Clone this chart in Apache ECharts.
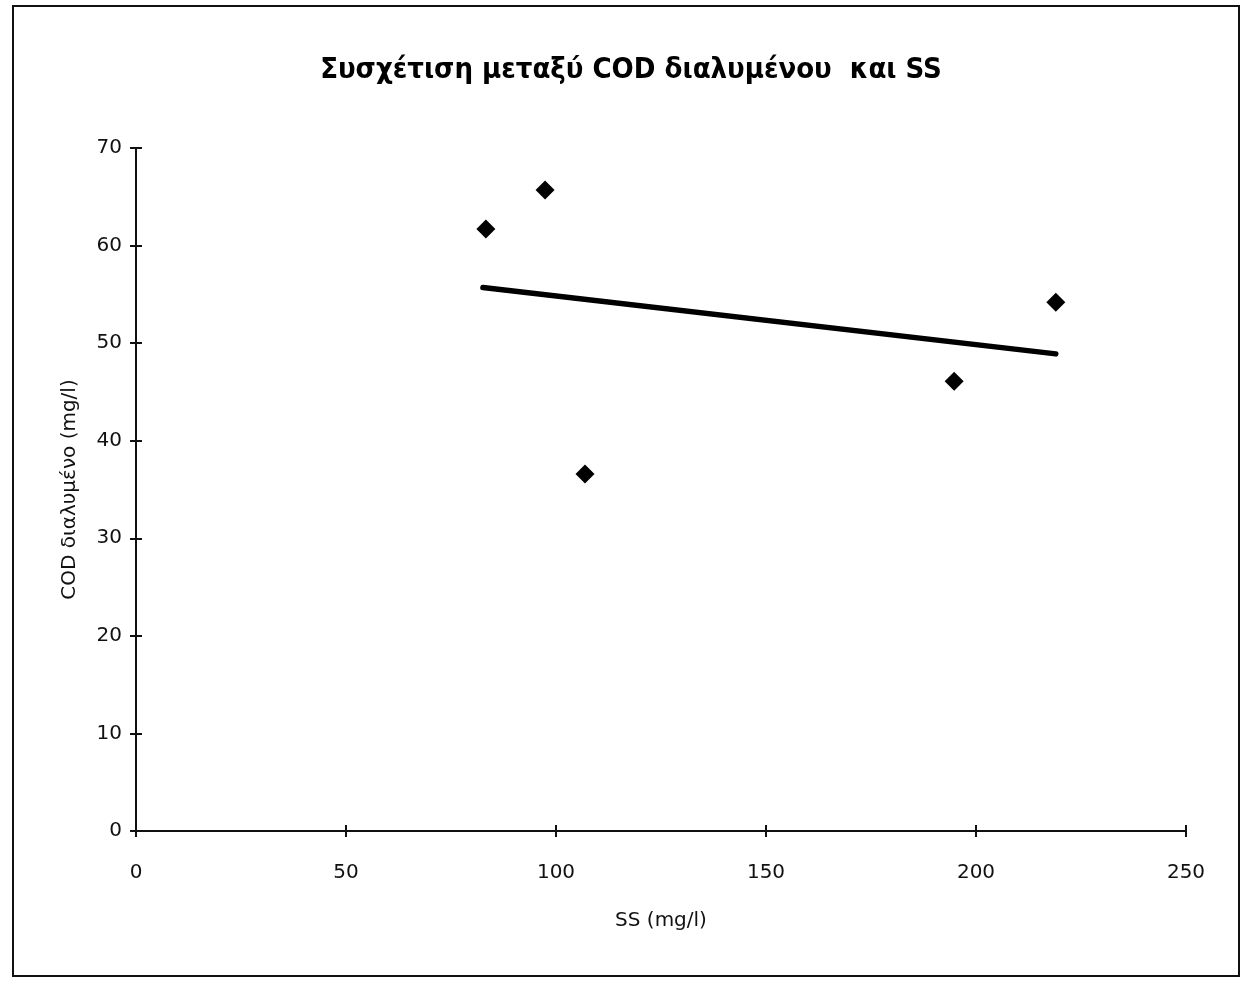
<!DOCTYPE html>
<html>
<head>
<meta charset="utf-8">
<script src="https://cdn.jsdelivr.net/npm/echarts@6/dist/echarts.min.js"></script>
<style>
  html, body { margin: 0; padding: 0; background: #fff; }
  #frame { position: absolute; left: 12px; top: 5px; width: 1224px; height: 968px; border: 2px solid #111; }
  #chart { position: absolute; left: 0; top: 0; width: 1248px; height: 983px; }
</style>
</head>
<body>
<div id="frame"></div>
<div id="chart"></div>
<script>
// Measured samples: suspended solids vs dissolved COD
const ssValues  = [83.3, 97.4, 106.9, 194.8, 219.0];
const codValues = [61.7, 65.7, 36.6, 46.1, 54.2];
// Linear trend line end points
const trendX = [82.6, 219.0];
const trendY = [55.7, 48.9];

const xTicks = { min: 0, max: 250, step: 50 };
const yTicks = { min: 0, max: 70, step: 10 };

const points = ssValues.map((x, i) => [x, codValues[i]]);
const trend = trendX.map((x, i) => [x, trendY[i]]);

const labelFont = { color: '#111', fontFamily: 'DejaVu Sans, sans-serif', fontSize: 20 };
const axisLine = { show: true, lineStyle: { color: '#111', width: 2 } };

const grid = { left: 136, right: 62, top: 148, bottom: 152 };

const chart = echarts.init(document.getElementById('chart'), null, { renderer: 'canvas' });
chart.setOption({
  animation: false,
  backgroundColor: 'transparent',
  title: {
    text: 'Συσχέτιση μεταξύ COD διαλυμένου  και SS',
    left: 626, top: 51, textAlign: 'center',
    textStyle: { fontFamily: 'DejaVu Sans Condensed, DejaVu Sans, sans-serif', fontWeight: 'bold', fontSize: 29, color: '#000' }
  },
  grid: grid,
  xAxis: [{
    type: 'value', min: xTicks.min, max: xTicks.max, interval: xTicks.step,
    axisLine: axisLine,
    axisTick: { show: true, length: 6, lineStyle: { color: '#111', width: 2 } },
    axisLabel: Object.assign({ margin: 32 }, labelFont),
    splitLine: { show: false },
    name: 'SS (mg/l)', nameLocation: 'middle', nameGap: 80,
    nameTextStyle: labelFont
  }, {
    type: 'value', position: 'bottom', min: xTicks.min, max: xTicks.max, interval: xTicks.step,
    axisLine: { show: false },
    axisTick: { show: true, inside: true, length: 6, lineStyle: { color: '#111', width: 2 } },
    axisLabel: { show: false }, splitLine: { show: false }
  }],
  yAxis: [{
    type: 'value', min: yTicks.min, max: yTicks.max, interval: yTicks.step,
    axisLine: axisLine,
    axisTick: { show: true, length: 6, lineStyle: { color: '#111', width: 2 } },
    axisLabel: Object.assign({ margin: 14 }, labelFont),
    splitLine: { show: false },
    name: 'COD διαλυμένο (mg/l)', nameLocation: 'middle', nameGap: 56,
    nameTextStyle: labelFont
  }, {
    type: 'value', position: 'left', min: yTicks.min, max: yTicks.max, interval: yTicks.step,
    axisLine: { show: false },
    axisTick: { show: true, inside: true, length: 6, lineStyle: { color: '#111', width: 2 } },
    axisLabel: { show: false }, splitLine: { show: false }
  }],
  series: [{
    type: 'line', data: trend, xAxisIndex: 0, yAxisIndex: 0,
    showSymbol: false, lineStyle: { color: '#000', width: 5.5, cap: 'round' }, z: 2
  }, {
    type: 'scatter', data: points, xAxisIndex: 0, yAxisIndex: 0,
    symbol: 'diamond', symbolSize: [19, 19],
    itemStyle: { color: '#000', opacity: 1 }, z: 3
  }]
});
</script>
</body>
</html>
